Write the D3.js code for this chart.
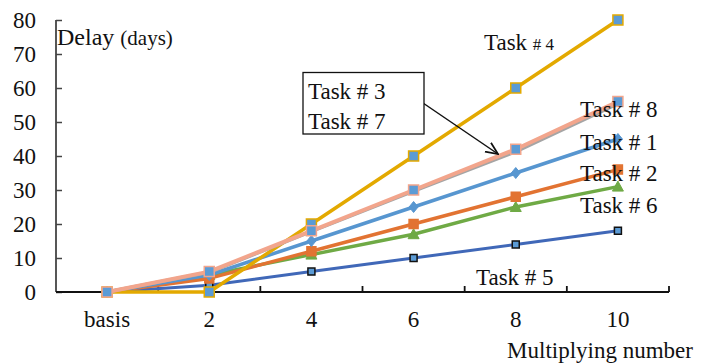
<!DOCTYPE html>
<html><head><meta charset="utf-8">
<script src="https://cdn.jsdelivr.net/npm/d3@7"></script>
<style>html,body{margin:0;padding:0;background:#fff;}svg{display:block;}
svg text{font-family:"Liberation Serif", "Times New Roman", Tinos, serif !important;}</style>
</head><body>
<svg id="c" width="708" height="364" font-family="Liberation Serif"></svg>
<script>
const categories = ["basis","2","4","6","8","10"];
const yTicks = [0,10,20,30,40,50,60,70,80];
const task5 = [0,2,6,10,14,18];
const task6 = [0,5,11,17,25,31];
const task2 = [0,4,12,20,28,36];
const task1 = [0,5,15,25,35,45];
const task4 = [0,0,20,40,60,80];
const task37 = [0,5.8,17.8,29.7,41.3,55.4];
const task8 = [0,6,18,30,42,56];

const FONT = '"Liberation Serif", "Times New Roman", Tinos, serif';
const series = [
  {name:"Task # 5", values:task5, color:"#4068B8", width:3, marker:"sq", size:7, fill:"#5B9BD5", stroke:"#111"},
  {name:"Task # 6", values:task6, color:"#6FAA45", width:3.5, marker:"tri", size:9, fill:"#6FAA45", stroke:"#6FAA45"},
  {name:"Task # 2", values:task2, color:"#E27332", width:3.5, marker:"sq", size:9, fill:"#E27332", stroke:"#E27332"},
  {name:"Task # 1", values:task1, color:"#5796D0", width:3.5, marker:"dia", size:9, fill:"#5796D0", stroke:"#5796D0"},
  {name:"Task # 4", values:task4, color:"#E3A900", width:3.5, marker:"sq", size:10, fill:"#5B9BD5", stroke:"#E3A900"},
  {name:"Task # 3/7", values:task37, color:"#A5A5A5", width:3.5, marker:null},
  {name:"Task # 8", values:task8, color:"#F2A58C", width:4, marker:"sq", size:10, fill:"#5B9BD5", stroke:"#F2A58C"}
];

const svg = d3.select("#c");
const x = d3.scaleBand().domain(categories).range([56,669]).padding(0);
const y = d3.scaleLinear().domain([0,80]).range([292,20]);
const cx = c => x(c) + x.bandwidth()/2;

// Y axis
const yAxis = svg.append("g").attr("transform","translate(56,0)")
  .call(d3.axisRight(y).tickValues(yTicks).tickSize(6).tickFormat(""));
yAxis.select(".domain").attr("stroke","#444").attr("stroke-width",1.8).attr("d","M0,20V292");
yAxis.selectAll(".tick line").attr("stroke","#444").attr("stroke-width",1.5);
svg.append("g").selectAll("text").data(yTicks).join("text")
  .attr("x",36).attr("y",d=>y(d)+7.8).attr("text-anchor","end").style("font-family",FONT)
  .attr("font-size",23).attr("fill","#111").text(d=>d);

// X axis
const xAxis = svg.append("g").attr("transform","translate(0,292)");
xAxis.append("line").attr("x1",56).attr("x2",669).attr("stroke","#111").attr("stroke-width",2);
const bounds = categories.map(c=>x(c)).concat([x(categories[categories.length-1])+x.bandwidth()]);
xAxis.selectAll("line.t").data(bounds.slice(1)).join("line").attr("class","t")
  .attr("x1",d=>d).attr("x2",d=>d).attr("y1",0).attr("y2",-6).attr("stroke","#111").attr("stroke-width",1.8);
xAxis.selectAll("text").data(categories).join("text")
  .attr("x",d=>cx(d)).attr("y",35).attr("text-anchor","middle").style("font-family",FONT)
  .attr("font-size",23).attr("fill","#111").text(d=>d);

// Lines
const line = d3.line().x((d,i)=>cx(categories[i])).y(d=>y(d));
series.forEach(s=>{
  const g = svg.append("g");
  g.append("path").datum(s.values).attr("d",line).attr("fill","none")
    .attr("stroke",s.color).attr("stroke-width",s.width).attr("stroke-linejoin","round");
  if(!s.marker) return;
  const pts = s.values.map((v,i)=>[cx(categories[i]), y(v)]);
  const h = s.size/2;
  g.selectAll("path.m").data(pts).join("path").attr("class","m")
    .attr("d",p=>{
      const [px,py]=p;
      if(s.marker==="sq") return `M${px-h},${py-h}h${s.size}v${s.size}h${-s.size}Z`;
      if(s.marker==="tri") return `M${px},${py-h-1}L${px+h+1},${py+h}L${px-h-1},${py+h}Z`;
      return `M${px},${py-h-1}L${px+h},${py}L${px},${py+h+1}L${px-h},${py}Z`;
    })
    .attr("fill",s.fill).attr("stroke",s.stroke).attr("stroke-width",s.marker==="sq"?1.5:1);
});

// Callout box
svg.append("defs").append("marker").attr("id","arr").attr("viewBox","0 0 10 10")
  .attr("refX",9).attr("refY",5).attr("markerWidth",9).attr("markerHeight",9).attr("orient","auto")
  .append("path").attr("d","M0,1L9,5L0,9").attr("fill","none").attr("stroke","#111").attr("stroke-width",1.3);
svg.append("line").attr("x1",423).attr("y1",103).attr("x2",498).attr("y2",154)
  .attr("stroke","#111").attr("stroke-width",1.5).attr("marker-end","url(#arr)");
svg.append("rect").attr("x",303).attr("y",72.5).attr("width",121).attr("height",61.5)
  .attr("fill","#fff").attr("stroke","#111").attr("stroke-width",1.3);

// Labels
const lab = svg.append("g").attr("fill","#111");
const addText = (px,py,size)=>lab.append("text").attr("x",px).attr("y",py).attr("font-size",size).style("font-family",FONT);
const t4 = addText(484,50,23);
t4.append("tspan").text("Task ");
t4.append("tspan").attr("font-size",17).text("# 4");
[["Task # 8",580,117],["Task # 1",580,150],["Task # 2",580,181],["Task # 6",580,213],["Task # 5",476,285],
 ["Task # 3",308,99],["Task # 7",308,129]]
  .forEach(([t,lx,ly])=>addText(lx,ly,23).text(t));

const dl = addText(57,45,24);
dl.append("tspan").text("Delay ");
dl.append("tspan").attr("font-size",21).text("(days)");

addText(693,358,23).attr("text-anchor","end").text("Multiplying number");
</script>
</body></html>
